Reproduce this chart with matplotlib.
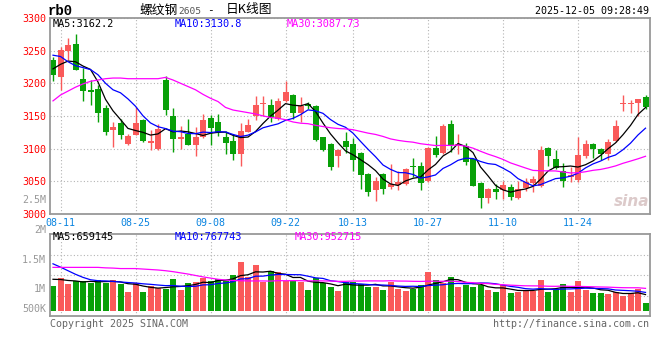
import matplotlib
matplotlib.use('Agg')
import matplotlib.pyplot as plt
import numpy as np
import pandas as pd

# rb2605 daily candles, 08-08 .. 12-05
opens = [3235, 3210, 3250, 3260, 3207, 3190, 3191, 3162, 3129, 3139,
         3107, 3121, 3143, 3109, 3100, 3205, 3150, 3115, 3122, 3106,
         3117, 3147, 3140, 3117, 3111, 3092, 3126, 3150, 3168, 3167,
         3145, 3173, 3182, 3155, 3168, 3165, 3117, 3107, 3088, 3111,
         3107, 3093, 3061, 3036, 3061, 3041, 3044, 3046, 3073, 3073,
         3050, 3101, 3093, 3138, 3106, 3104, 3084, 3047, 3024, 3038,
         3037, 3041, 3024, 3040, 3047, 3042, 3101, 3084, 3066, 3057,
         3052, 3089, 3107, 3100, 3092, 3111, 3168, 3168, 3170, 3179]
highs = [3241, 3256, 3269, 3275, 3223, 3205, 3197, 3167, 3141, 3145,
         3123, 3163, 3146, 3129, 3137, 3211, 3162, 3134, 3146, 3133,
         3153, 3152, 3153, 3127, 3120, 3139, 3145, 3181, 3180, 3176,
         3177, 3203, 3183, 3179, 3172, 3167, 3118, 3109, 3100, 3126,
         3116, 3094, 3063, 3056, 3062, 3076, 3065, 3070, 3085, 3079,
         3102, 3119, 3138, 3144, 3122, 3108, 3085, 3048, 3039, 3046,
         3050, 3046, 3050, 3055, 3058, 3104, 3102, 3097, 3078, 3072,
         3117, 3113, 3108, 3101, 3114, 3143, 3182, 3175, 3176, 3182]
lows = [3203, 3190, 3236, 3220, 3173, 3167, 3141, 3121, 3103, 3114,
        3105, 3120, 3110, 3097, 3098, 3151, 3094, 3099, 3105, 3088,
        3116, 3106, 3119, 3092, 3082, 3073, 3125, 3144, 3150, 3141,
        3144, 3172, 3145, 3140, 3160, 3111, 3096, 3067, 3072, 3093,
        3066, 3038, 3027, 3020, 3031, 3038, 3036, 3044, 3057, 3037,
        3048, 3087, 3092, 3095, 3092, 3075, 3042, 3009, 3016, 3022,
        3022, 3021, 3023, 3035, 3034, 3041, 3073, 3068, 3041, 3049,
        3049, 3085, 3085, 3082, 3083, 3110, 3158, 3154, 3150, 3160]
closes = [3213, 3251, 3259, 3221, 3188, 3187, 3155, 3126, 3133, 3121,
          3119, 3139, 3112, 3112, 3130, 3159, 3115, 3118, 3106, 3117,
          3144, 3132, 3125, 3108, 3092, 3127, 3136, 3167, 3170, 3148,
          3173, 3186, 3155, 3165, 3165, 3113, 3097, 3072, 3097, 3103,
          3083, 3060, 3034, 3051, 3038, 3046, 3048, 3069, 3071, 3047,
          3101, 3090, 3134, 3106, 3107, 3079, 3043, 3024, 3038, 3034,
          3044, 3026, 3038, 3048, 3054, 3098, 3089, 3070, 3050, 3059,
          3090, 3107, 3099, 3092, 3110, 3135, 3170, 3170, 3176, 3163]
volumes = [1036000, 1373000, 1134000, 1246000, 1246000, 1162000, 1289000, 1176000, 1289000, 1120000,
           798000, 1176000, 798000, 1022000, 952000, 910000, 1330000, 882000, 1176000, 1218000,
           1373000, 1246000, 1317000, 1246000, 1499000, 2059000, 1429000, 1933000, 1204000, 1667000,
           1611000, 1246000, 1246000, 1218000, 882000, 1373000, 1176000, 980000, 840000, 1204000,
           1204000, 1120000, 1008000, 1008000, 868000, 1204000, 924000, 826000, 910000, 1078000,
           1625000, 1289000, 1176000, 1415000, 1008000, 1078000, 994000, 1078000, 868000, 784000,
           1064000, 742000, 798000, 840000, 812000, 1289000, 784000, 896000, 1120000, 798000,
           1246000, 868000, 742000, 742000, 700000, 798000, 630000, 742000, 896000, 322000]

# moving averages before enough days are in the window
ma5_head = [3222, 3229, 3234, 3233]
ma10_head = [3243, 3241, 3233, 3227, 3224, 3221, 3213, 3200, 3190]
ma30_head = [3173, 3182, 3188, 3194, 3199, 3203, 3205, 3207, 3208, 3208,
             3207, 3207, 3207, 3207, 3207, 3209, 3205, 3200, 3195, 3190,
             3183, 3177, 3172, 3163, 3159, 3157, 3155, 3153, 3150]
vma5_head = [1320000, 1310000, 1270000, 1250000]
vma10_head = [1970000, 1830000, 1680000, 1530000, 1400000, 1300000, 1260000, 1250000, 1230000]
vma30_head = [1820000, 1820000, 1820000, 1820000, 1820000, 1820000, 1820000, 1800000, 1790000, 1770000,
              1770000, 1770000, 1750000, 1730000, 1710000, 1680000, 1640000, 1590000, 1540000, 1480000,
              1420000, 1370000, 1320000, 1290000, 1270000, 1260000, 1250000, 1250000, 1250000]

tick_idx = [1, 11, 21, 31, 40, 50, 60, 70]
tick_labels = ['08-11', '08-25', '09-08', '09-22', '10-13', '10-27', '11-10', '11-24']
price_ticks = [3000, 3050, 3100, 3150, 3200, 3250, 3300]

RED = '#fa5a5a'
GREEN = '#08a008'
GRID = '#b4b4b4'
MONO = 'DejaVu Sans Mono'
W, H = 660, 360


def P(x, y):
    # pixel -> figure fraction
    return x / W, 1 - y / H


def moving(vals, n, head):
    m = pd.Series(vals, dtype=float).rolling(n).mean().to_numpy()
    m[:len(head)] = head
    return m


fig = plt.figure(figsize=(6.6, 3.6), dpi=100)
fig.patch.set_facecolor('white')

x = np.arange(len(closes))
o = np.array(opens, float)
c = np.array(closes, float)
hi = np.array(highs, float)
lo = np.array(lows, float)
vol = np.array(volumes, float)
cols = [RED if cc >= oo else GREEN for oo, cc in zip(o, c)]

# ---- price panel
ax = fig.add_axes([50.3 / W, 1 - 213.8 / H, (650 - 50.3) / W, (213.8 - 18) / H])
ax.vlines(x, lo, hi, colors=cols, lw=1, zorder=2)
ax.bar(x, np.maximum(np.abs(c - o), 0.9), bottom=np.minimum(o, c), width=0.8,
       color=cols, lw=0, zorder=2)
ax.plot(x, moving(closes, 5, ma5_head), color='black', lw=0.9, zorder=3)
ax.plot(x, moving(closes, 10, ma10_head), color='#0000ff', lw=0.9, zorder=3)
ax.plot(x, moving(closes, 30, ma30_head), color='#ff00ff', lw=0.9, zorder=3)
ax.set_xlim(-0.36, 79.6)
ax.set_ylim(3000, 3300)
ax.set_yticks(price_ticks)
ax.set_yticklabels([str(p) for p in price_ticks], color='red', family=MONO, fontsize=7.2)
ax.set_xticks(tick_idx)
ax.set_xticklabels(tick_labels, color='#0a84e0', family=MONO, fontsize=7.2)
ax.tick_params(length=0, pad=3)
ax.grid(True, color=GRID, linestyle=(0, (1, 2)), lw=0.8, zorder=0)

# ---- volume panel
axv = fig.add_axes([50.3 / W, 1 - 316 / H, (650 - 50.3) / W, (316 - 234.3) / H])
axv.bar(x, vol, width=0.8, color=cols, lw=0, zorder=2)
axv.plot(x, moving(volumes, 5, vma5_head), color='black', lw=0.9, zorder=3)
axv.plot(x, moving(volumes, 10, vma10_head), color='#0000ff', lw=0.9, zorder=3)
axv.plot(x, moving(volumes, 30, vma30_head), color='#ff00ff', lw=0.9, zorder=3)
axv.set_xlim(-0.36, 79.6)
v0, v1 = -223000, 3210000
axv.set_ylim(v0, v1)
axv.set_yticks([v0 + (v1 - v0) * k / 4 for k in (1, 2, 3)])
axv.set_yticklabels([])
axv.set_xticks(tick_idx)
axv.set_xticklabels([])
axv.tick_params(length=0)
axv.grid(True, color=GRID, linestyle=(0, (1, 2)), lw=0.8, zorder=0)

for a in (ax, axv):
    for s in a.spines.values():
        s.set_color('#999999')
        s.set_linewidth(1.3)

# volume axis labels sit where sina puts them
for txt, yy in [('2.5M', 200), ('2M', 230), ('1.5M', 260), ('1M', 289), ('500K', 309)]:
    fig.text(*P(46, yy), txt, color='#999999', family=MONO, fontsize=7.2, ha='right', va='center')

# header
fig.text(*P(48, 11), 'rb0', family='Liberation Mono', weight='bold', fontsize=10, va='center')
fig.text(*P(140, 10), '螺纹钢', family=['Noto Sans CJK SC', 'DejaVu Sans'], fontsize=9.2, va='center')
fig.text(*P(178, 11), '2605', color='#555555', family=MONO, fontsize=6.8, va='center')
fig.text(*P(207, 10), '-', family=MONO, fontsize=8, va='center')
fig.text(*P(226, 10), '日K线图', family=['Noto Sans CJK SC', 'DejaVu Sans'], fontsize=9.2, va='center')
fig.text(*P(649, 11), '2025-12-05 09:28:49', family=MONO, fontsize=7.2, ha='right', va='center')

# MA legends
fig.text(*P(53, 24), 'MA5:3162.2', color='black', family=MONO, fontsize=7.4, va='center')
fig.text(*P(175, 24), 'MA10:3130.8', color='#0000ff', family=MONO, fontsize=7.4, va='center')
fig.text(*P(287, 24), 'MA30:3087.73', color='#ff00ff', family=MONO, fontsize=7.4, va='center')
fig.text(*P(53, 237.5), 'MA5:659145', color='black', family=MONO, fontsize=7.4, va='center')
fig.text(*P(175, 237.5), 'MA10:767743', color='#0000ff', family=MONO, fontsize=7.4, va='center')
fig.text(*P(295, 237.5), 'MA30:952715', color='#ff00ff', family=MONO, fontsize=7.4, va='center')

# watermark + footer
fig.text(*P(632, 201), 'sina', color='#dccaca', fontsize=11, style='italic', weight='bold',
         ha='center', va='center')
fig.text(*P(50, 324), 'Copyright 2025 SINA.COM', color='#666666', family=MONO, fontsize=7.2, va='center')
fig.text(*P(649, 324), 'http://finance.sina.com.cn', color='#666666', family=MONO, fontsize=7.2,
         ha='right', va='center')

fig.savefig('out.png', dpi=100)
